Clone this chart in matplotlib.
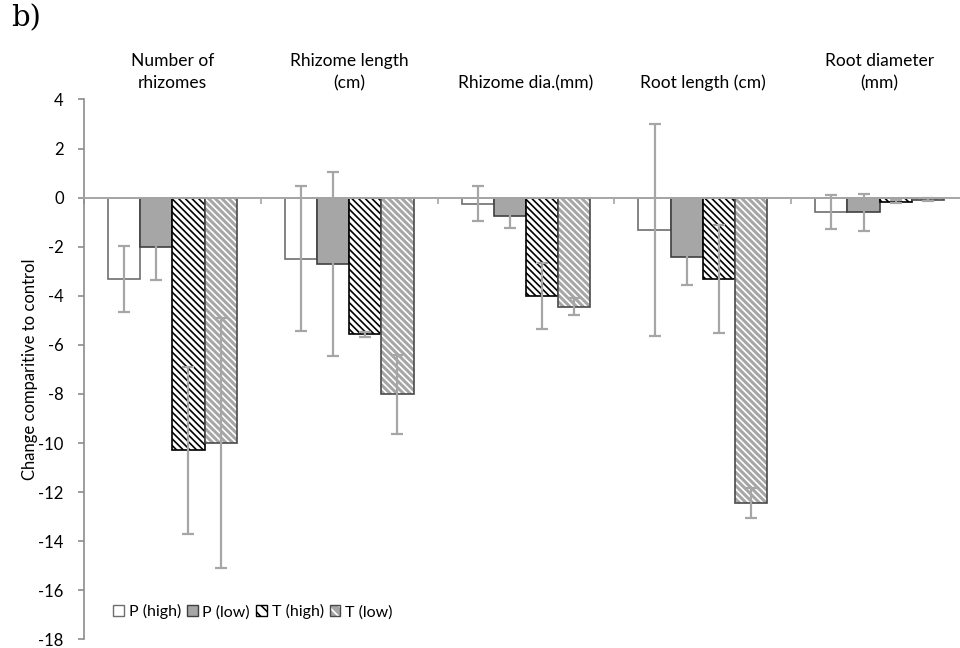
import numpy as np
import matplotlib
matplotlib.use('Agg')
import matplotlib.pyplot as plt
from matplotlib.patches import Patch
from matplotlib.transforms import blended_transform_factory

plt.rcParams['font.family'] = ['Lato', 'DejaVu Sans']
plt.rcParams['axes.unicode_minus'] = False
plt.rcParams['hatch.linewidth'] = 1.2

# data
categories = ['Number of\nrhizomes', 'Rhizome length\n(cm)', 'Rhizome dia.(mm)',
              'Root length (cm)', 'Root diameter\n(mm)']
series = ['P (high)', 'P (low)', 'T (high)', 'T (low)']
p_high = [-3.3, -2.48, -0.24, -1.3, -0.6]
p_low = [-2.0, -2.7, -0.73, -2.4, -0.6]
t_high = [-10.3, -5.56, -4.0, -3.3, -0.16]
t_low = [-10.0, -8.02, -4.45, -12.45, -0.08]
p_high_err = [1.35, 2.95, 0.72, 4.32, 0.69]
p_low_err = [1.35, 3.75, 0.49, 1.15, 0.76]
t_high_err = [3.4, 0.1, 1.35, 2.2, 0.07]
t_low_err = [5.1, 1.6, 0.35, 0.6, 0.06]
yticks = list(range(-18, 5, 2))

values = [p_high, p_low, t_high, t_low]
errors = [p_high_err, p_low_err, t_high_err, t_low_err]

fig = plt.figure(figsize=(9.6, 6.48), dpi=100)
ax = fig.add_axes([84 / 960, (648 - 639.4) / 648, 884 / 960, (639.4 - 99.5) / 648])

x = np.arange(len(categories))
w = 0.182
offs = (np.arange(4) - 1.5) * w
err_col = '#a6a6a6'
hatch = '\\' * 5

# P (high) - white
ax.bar(x + offs[0], p_high, w, facecolor='white', edgecolor='#6e6e6e', lw=1.2, zorder=1)
# P (low) - gray
ax.bar(x + offs[1], p_low, w, facecolor='#a6a6a6', edgecolor='#404040', lw=1.2, zorder=1)
# T (high) - black stripes
ax.bar(x + offs[2], t_high, w, facecolor='white', edgecolor='black', hatch=hatch, lw=1.2, zorder=1)
# T (low) - gray with white stripes
ax.bar(x + offs[3], t_low, w, facecolor='#a6a6a6', edgecolor='white', hatch=hatch, lw=0, zorder=1)
ax.bar(x + offs[3], t_low, w, fill=False, edgecolor='#4a4a4a', lw=1.2, zorder=1.1)

for i in range(4):
    ax.errorbar(x + offs[i], values[i], yerr=errors[i], fmt='none', ecolor=err_col,
                elinewidth=1.6, capsize=4.5, capthick=1.6, zorder=3)

ax.set_xlim(-0.5, 4.5)
ax.set_ylim(-18, 4)
ax.set_yticks(yticks)
ax.set_yticklabels([str(t) for t in yticks], fontsize=12)
ax.tick_params(axis='y', direction='out', length=4.5, width=1.2, color='#8c8c8c', pad=10)
ax.set_xticks(np.arange(-0.5, 5, 1))
ax.set_xticklabels([])
ax.tick_params(axis='x', direction='out', length=4, width=1.2, color='#a6a6a6')

for s in ['top', 'right']:
    ax.spines[s].set_visible(False)
ax.spines['bottom'].set_position(('data', 0))
ax.spines['bottom'].set_color('#a6a6a6')
ax.spines['bottom'].set_linewidth(1.4)
ax.spines['bottom'].set_zorder(2.5)
ax.spines['left'].set_color('#8c8c8c')
ax.spines['left'].set_linewidth(1.2)

ax.set_ylabel('Change comparitive to control', fontsize=12)
ax.yaxis.set_label_coords(-0.052, 0.5)

trans = blended_transform_factory(ax.transData, fig.transFigure)
for xi, lab in zip(x, categories):
    ax.text(xi, (648 - 91) / 648, lab, transform=trans, ha='center', va='bottom',
            fontsize=12.5, linespacing=1.45)

fig.text(11 / 960, 1 - 4 / 648, 'b)', family='DejaVu Serif', fontsize=21, va='top', ha='left')

handles = [
    Patch(facecolor='white', edgecolor='#6e6e6e', lw=1),
    Patch(facecolor='#a6a6a6', edgecolor='#404040', lw=1),
    Patch(facecolor='white', edgecolor='black', hatch='\\\\\\', lw=1),
    (Patch(facecolor='#a6a6a6', edgecolor='white', hatch='\\\\\\', lw=0),
     Patch(fill=False, edgecolor='#4a4a4a', lw=1)),
]
ax.legend(handles, series, loc='center left', bbox_to_anchor=(0.026, 0.051), ncol=4,
          frameon=False, fontsize=11.5, handlelength=0.65, handleheight=0.65,
          handletextpad=0.3, columnspacing=0.4, borderaxespad=0)

fig.savefig('out.png', dpi=100)
